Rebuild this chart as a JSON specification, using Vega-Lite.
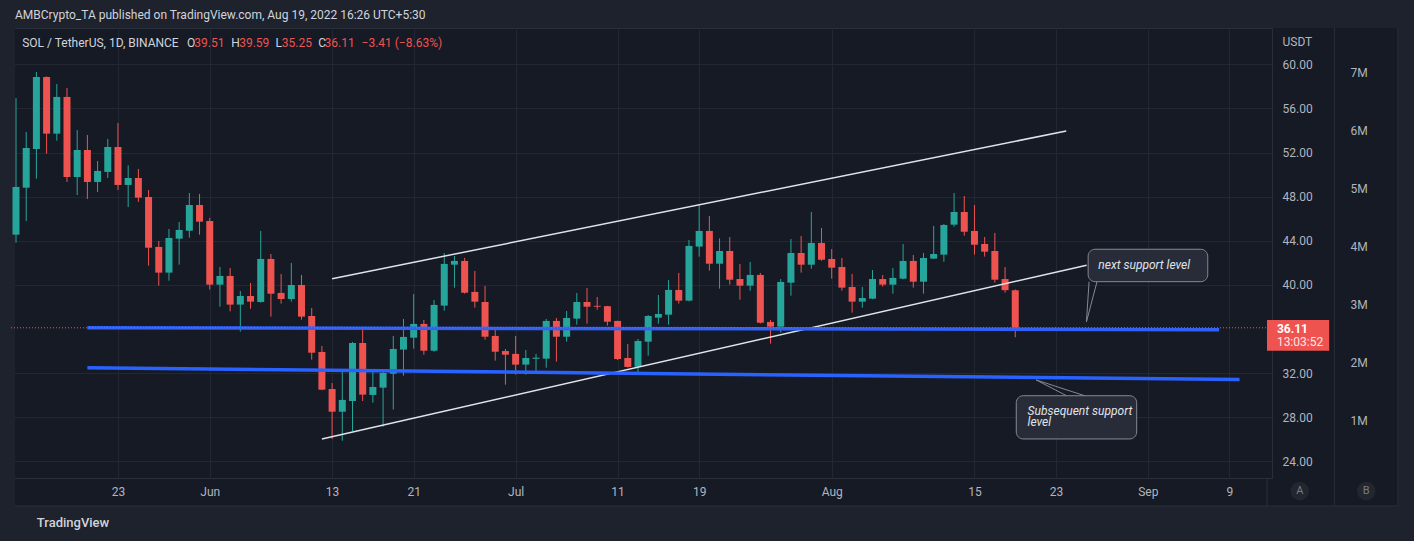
{
"$schema": "https://vega.github.io/schema/vega-lite/v6.json",
"width": 1262,
"height": 450,
"autosize": {"type": "none"},
"padding": {"left": 10, "top": 28, "right": 142, "bottom": 63},
"background": "#161a25",
"config": {"font": "Roboto", "view": {"stroke": "#2a2e39", "strokeWidth": 1}},
"datasets": {
"candles": [
{"d":"2022-05-13","o":44.55,"h":56.94,"l":43.83,"c":48.88},
{"d":"2022-05-14","o":48.81,"h":53.86,"l":45.79,"c":52.41},
{"d":"2022-05-15","o":52.32,"h":59.30,"l":49.63,"c":58.85},
{"d":"2022-05-16","o":58.85,"h":58.90,"l":51.89,"c":53.71},
{"d":"2022-05-17","o":53.71,"h":58.21,"l":53.07,"c":57.04},
{"d":"2022-05-18","o":57.04,"h":57.85,"l":49.33,"c":49.78},
{"d":"2022-05-19","o":49.78,"h":54.04,"l":48.15,"c":52.23},
{"d":"2022-05-20","o":52.23,"h":53.59,"l":47.79,"c":49.33},
{"d":"2022-05-21","o":49.33,"h":51.23,"l":48.42,"c":50.33},
{"d":"2022-05-22","o":50.24,"h":53.23,"l":49.69,"c":52.50},
{"d":"2022-05-23","o":52.50,"h":54.68,"l":48.60,"c":49.06},
{"d":"2022-05-24","o":49.06,"h":50.84,"l":47.06,"c":49.69},
{"d":"2022-05-25","o":49.69,"h":50.51,"l":47.52,"c":47.91},
{"d":"2022-05-26","o":47.97,"h":48.60,"l":41.74,"c":43.37},
{"d":"2022-05-27","o":43.44,"h":43.98,"l":39.93,"c":41.11},
{"d":"2022-05-28","o":41.11,"h":45.07,"l":40.38,"c":44.25},
{"d":"2022-05-29","o":44.19,"h":45.70,"l":41.83,"c":44.98},
{"d":"2022-05-30","o":44.91,"h":48.33,"l":44.28,"c":47.24},
{"d":"2022-05-31","o":47.24,"h":48.24,"l":44.55,"c":45.73},
{"d":"2022-06-01","o":45.79,"h":46.07,"l":39.57,"c":40.02},
{"d":"2022-06-02","o":40.02,"h":41.62,"l":38.02,"c":40.81},
{"d":"2022-06-03","o":40.81,"h":41.53,"l":37.60,"c":38.21},
{"d":"2022-06-04","o":38.21,"h":39.45,"l":35.76,"c":38.99},
{"d":"2022-06-05","o":38.99,"h":40.17,"l":37.84,"c":38.48},
{"d":"2022-06-06","o":38.45,"h":44.89,"l":38.39,"c":42.35},
{"d":"2022-06-07","o":42.35,"h":42.80,"l":37.12,"c":39.20},
{"d":"2022-06-08","o":39.27,"h":40.99,"l":38.30,"c":38.72},
{"d":"2022-06-09","o":38.72,"h":41.99,"l":38.48,"c":39.99},
{"d":"2022-06-10","o":39.99,"h":40.90,"l":36.85,"c":37.12},
{"d":"2022-06-11","o":37.18,"h":37.91,"l":33.22,"c":33.85},
{"d":"2022-06-12","o":33.92,"h":34.46,"l":30.45,"c":30.50},
{"d":"2022-06-13","o":30.56,"h":31.11,"l":26.03,"c":28.50},
{"d":"2022-06-14","o":28.50,"h":32.28,"l":25.87,"c":29.57},
{"d":"2022-06-15","o":29.47,"h":34.82,"l":26.75,"c":34.73},
{"d":"2022-06-16","o":34.73,"h":36.00,"l":29.47,"c":30.05},
{"d":"2022-06-17","o":30.02,"h":32.19,"l":29.32,"c":30.74},
{"d":"2022-06-18","o":30.68,"h":32.19,"l":27.14,"c":32.01},
{"d":"2022-06-19","o":31.95,"h":35.37,"l":28.69,"c":34.19},
{"d":"2022-06-20","o":34.13,"h":36.91,"l":31.77,"c":35.28},
{"d":"2022-06-21","o":35.21,"h":39.17,"l":34.22,"c":36.46},
{"d":"2022-06-22","o":36.46,"h":36.82,"l":33.67,"c":34.03},
{"d":"2022-06-23","o":34.03,"h":38.63,"l":33.94,"c":38.18},
{"d":"2022-06-24","o":38.12,"h":42.89,"l":37.66,"c":41.90},
{"d":"2022-06-25","o":41.83,"h":42.62,"l":39.75,"c":42.17},
{"d":"2022-06-26","o":42.17,"h":42.44,"l":39.20,"c":39.29},
{"d":"2022-06-27","o":39.36,"h":41.26,"l":37.93,"c":38.48},
{"d":"2022-06-28","o":38.45,"h":39.90,"l":35.03,"c":35.30},
{"d":"2022-06-29","o":35.37,"h":36.07,"l":33.13,"c":33.94},
{"d":"2022-06-30","o":34.00,"h":34.19,"l":30.95,"c":33.67},
{"d":"2022-07-01","o":33.74,"h":35.37,"l":31.86,"c":32.77},
{"d":"2022-07-02","o":32.77,"h":34.10,"l":31.86,"c":33.37},
{"d":"2022-07-03","o":33.30,"h":33.74,"l":32.13,"c":33.40},
{"d":"2022-07-04","o":33.31,"h":36.91,"l":32.49,"c":36.73},
{"d":"2022-07-05","o":36.73,"h":37.00,"l":33.04,"c":35.30},
{"d":"2022-07-06","o":35.30,"h":37.63,"l":34.85,"c":37.00},
{"d":"2022-07-07","o":36.94,"h":39.27,"l":36.39,"c":38.45},
{"d":"2022-07-08","o":38.45,"h":39.72,"l":36.48,"c":38.02},
{"d":"2022-07-09","o":38.10,"h":38.90,"l":37.75,"c":38.02},
{"d":"2022-07-10","o":38.07,"h":38.10,"l":36.30,"c":36.66},
{"d":"2022-07-11","o":36.73,"h":36.75,"l":33.19,"c":33.28},
{"d":"2022-07-12","o":33.37,"h":34.64,"l":32.50,"c":32.56},
{"d":"2022-07-13","o":32.58,"h":35.10,"l":31.86,"c":34.91},
{"d":"2022-07-14","o":34.85,"h":37.27,"l":33.58,"c":37.18},
{"d":"2022-07-15","o":37.03,"h":39.08,"l":36.48,"c":37.36},
{"d":"2022-07-16","o":37.30,"h":40.44,"l":36.39,"c":39.54},
{"d":"2022-07-17","o":39.54,"h":41.08,"l":38.30,"c":38.57},
{"d":"2022-07-18","o":38.57,"h":44.07,"l":38.50,"c":43.53},
{"d":"2022-07-19","o":43.47,"h":47.33,"l":42.56,"c":44.89},
{"d":"2022-07-20","o":44.89,"h":46.25,"l":41.29,"c":41.92},
{"d":"2022-07-21","o":41.92,"h":44.22,"l":39.66,"c":43.07},
{"d":"2022-07-22","o":43.07,"h":44.34,"l":40.02,"c":40.47},
{"d":"2022-07-23","o":40.53,"h":41.90,"l":38.66,"c":39.93},
{"d":"2022-07-24","o":39.93,"h":42.08,"l":39.47,"c":40.90},
{"d":"2022-07-25","o":40.90,"h":41.08,"l":36.50,"c":36.57},
{"d":"2022-07-26","o":36.64,"h":36.82,"l":34.67,"c":36.21},
{"d":"2022-07-27","o":36.21,"h":40.53,"l":35.67,"c":40.26},
{"d":"2022-07-28","o":40.20,"h":44.16,"l":39.02,"c":42.89},
{"d":"2022-07-29","o":42.89,"h":44.43,"l":41.11,"c":41.83},
{"d":"2022-07-30","o":41.83,"h":46.61,"l":41.47,"c":43.80},
{"d":"2022-07-31","o":43.80,"h":45.16,"l":42.19,"c":42.28},
{"d":"2022-08-01","o":42.35,"h":43.25,"l":40.56,"c":41.56},
{"d":"2022-08-02","o":41.62,"h":42.44,"l":39.47,"c":39.75},
{"d":"2022-08-03","o":39.81,"h":40.99,"l":37.48,"c":38.48},
{"d":"2022-08-04","o":38.48,"h":39.81,"l":37.93,"c":38.81},
{"d":"2022-08-05","o":38.75,"h":41.35,"l":38.70,"c":40.53},
{"d":"2022-08-06","o":40.53,"h":40.90,"l":39.84,"c":40.02},
{"d":"2022-08-07","o":40.02,"h":41.53,"l":39.20,"c":40.63},
{"d":"2022-08-08","o":40.56,"h":43.71,"l":40.50,"c":42.17},
{"d":"2022-08-09","o":42.17,"h":42.71,"l":39.75,"c":40.29},
{"d":"2022-08-10","o":40.29,"h":42.89,"l":39.20,"c":42.44},
{"d":"2022-08-11","o":42.38,"h":45.34,"l":42.35,"c":42.80},
{"d":"2022-08-12","o":42.74,"h":45.52,"l":42.10,"c":45.43},
{"d":"2022-08-13","o":45.46,"h":48.33,"l":45.28,"c":46.61},
{"d":"2022-08-14","o":46.61,"h":48.06,"l":44.46,"c":44.82},
{"d":"2022-08-15","o":44.89,"h":47.24,"l":42.74,"c":43.64},
{"d":"2022-08-16","o":43.71,"h":44.34,"l":42.56,"c":43.01},
{"d":"2022-08-17","o":43.07,"h":44.71,"l":40.20,"c":40.47},
{"d":"2022-08-18","o":40.53,"h":41.62,"l":39.29,"c":39.52},
{"d":"2022-08-19","o":39.51,"h":39.59,"l":35.25,"c":36.11}
],
"frame": [
{"t":"2022-05-01T00:00:00Z","t2":"2022-10-10T00:00:00Z","p":63.29,"p2":70},
{"t":"2022-05-01T00:00:00Z","t2":"2022-10-10T00:00:00Z","p":19.95,"p2":10},
{"t":"2022-05-01T00:00:00Z","t2":"2022-05-12T21:37:00Z","p":10,"p2":70},
{"t":"2022-09-25T12:43:00Z","t2":"2022-10-10T00:00:00Z","p":10,"p2":70}
],
"seps": [
{"t":"2022-09-12T16:34:00Z","t2":"2022-09-12T16:34:00Z","p":22.49,"p2":19.95},
{"t":"2022-09-19T07:12:00Z","t2":"2022-09-19T07:12:00Z","p":63.29,"p2":19.95},
{"t":"2022-05-12T21:37:00Z","t2":"2022-09-25T12:43:00Z","p":19.95,"p2":19.95},
{"t":"2022-09-25T12:43:00Z","t2":"2022-09-25T12:43:00Z","p":63.29,"p2":19.95}
],
"buttons": [
{"t":"2022-09-15T21:36:00Z","p":21.31,"s":"A"},
{"t":"2022-09-22T10:05:00Z","p":21.31,"s":"B"}
],
"header": [{"t":"2022-05-12T21:37:00Z","p":64.47,"s":"AMBCrypto_TA published on TradingView.com, Aug 19, 2022 16:26 UTC+5:30"}],
"footer": [{"t":"2022-05-15T00:58:00Z","p":18.41,"s":"TradingView"}],
"trend": [
{"t":"2022-06-13","t2":"2022-08-24","p":40.56,"p2":53.95},
{"t":"2022-06-12","t2":"2022-08-26","p":26.03,"p2":41.78}
],
"support": [
{"t":"2022-05-20","t2":"2022-09-08","p":36.12,"p2":35.94},
{"t":"2022-05-20","t2":"2022-09-10","p":32.49,"p2":31.41}
],
"last": [{"p":36.11}],
"boxes": [
{"t":"2022-08-26T03:36:00Z","t2":"2022-09-06T21:07:00Z","p":43.23,"p2":40.29},
{"t":"2022-08-19T02:24:00Z","t2":"2022-08-30T21:50:00Z","p":29.95,"p2":26.03}
],
"tails": [
{"g":1,"k":1,"t":"2022-08-26T05:46:00Z","p":40.29},
{"g":1,"k":2,"t":"2022-08-25T23:32:00Z","p":36.64},
{"g":1,"k":3,"t":"2022-08-27T00:29:00Z","p":40.29},
{"g":2,"k":1,"t":"2022-08-24T00:43:00Z","p":29.95},
{"g":2,"k":2,"t":"2022-08-21T01:12:00Z","p":31.38},
{"g":2,"k":3,"t":"2022-08-25T19:26:00Z","p":29.95}
],
"notes": [
{"t":"2022-08-27T03:36:00Z","p":41.80,"s":"next support level"},
{"t":"2022-08-20T05:02:00Z","p":28.57,"s":"Subsequent support"},
{"t":"2022-08-20T05:02:00Z","p":27.53,"s":"level"}
],
"pricebox": [{"t":"2022-09-12T16:34:00Z","t2":"2022-09-18T18:58:00Z","p":36.82,"p2":34.03}],
"lastprice": [{"t":"2022-09-13T15:50:00Z","p":36.04,"s":"36.11"}],
"countdown": [{"t":"2022-09-13T15:50:00Z","p":34.80,"s":"13:03:52"}],
"legendlabels": [
{"t":"2022-05-13T14:38:00Z","p":61.93,"s":"SOL / TetherUS, 1D, BINANCE"},
{"t":"2022-05-29T18:17:00Z","p":61.93,"s":"O"},
{"t":"2022-06-03T02:40:00Z","p":61.93,"s":"H"},
{"t":"2022-06-07T11:02:00Z","p":61.93,"s":"L"},
{"t":"2022-06-11T15:27:00Z","p":61.93,"s":"C"}
],
"legendvalues": [
{"t":"2022-05-30T11:34:00Z","p":61.93,"s":"39.51"},
{"t":"2022-06-03T21:22:00Z","p":61.93,"s":"39.59"},
{"t":"2022-06-08T01:45:00Z","p":61.93,"s":"35.25"},
{"t":"2022-06-12T06:10:00Z","p":61.93,"s":"36.11"},
{"t":"2022-06-15T21:16:00Z","p":61.93,"s":"−3.41 (−8.63%)"}
]
},
"layer": [
{
"layer": [
{"data": {"name": "frame"}, "mark": {"type": "rect", "color": "#1e222d"},
 "encoding": {"x": {"field": "t", "type": "temporal", "scale": {"type": "utc", "domain": [1652391420000, 1663000440000]}}, "x2": {"field": "t2"},
  "y": {"field": "p", "type": "quantitative", "scale": {"domain": [22.49, 63.29], "nice": false, "zero": false}}, "y2": {"field": "p2"}}},
{"data": {"name": "seps"}, "mark": {"type": "rule", "color": "#2a2e39", "strokeWidth": 1},
 "encoding": {"x": {"field": "t", "type": "temporal", "scale": {"type": "utc", "domain": [1652391420000, 1663000440000]}}, "x2": {"field": "t2"},
  "y": {"field": "p", "type": "quantitative", "scale": {"domain": [22.49, 63.29], "nice": false, "zero": false}}, "y2": {"field": "p2"}}},
{"data": {"name": "buttons"}, "mark": {"type": "point", "filled": true, "size": 346, "color": "#22262f", "opacity": 1},
 "encoding": {"x": {"field": "t", "type": "temporal", "scale": {"type": "utc", "domain": [1652391420000, 1663000440000]}},
  "y": {"field": "p", "type": "quantitative", "scale": {"domain": [22.49, 63.29], "nice": false, "zero": false}}}},
{"data": {"name": "buttons"}, "mark": {"type": "text", "color": "#787b86", "fontSize": 11, "align": "center", "baseline": "middle"},
 "encoding": {"x": {"field": "t", "type": "temporal", "scale": {"type": "utc", "domain": [1652391420000, 1663000440000]}},
  "y": {"field": "p", "type": "quantitative", "scale": {"domain": [22.49, 63.29], "nice": false, "zero": false}}, "text": {"field": "s"}}},
{"data": {"name": "header"}, "mark": {"type": "text", "color": "#d1d4dc", "fontSize": 12, "align": "left", "baseline": "middle"},
 "encoding": {"x": {"field": "t", "type": "temporal", "scale": {"type": "utc", "domain": [1652391420000, 1663000440000]}},
  "y": {"field": "p", "type": "quantitative", "scale": {"domain": [22.49, 63.29], "nice": false, "zero": false}}, "text": {"field": "s"}}},
{"data": {"name": "footer"}, "mark": {"type": "text", "color": "#d1d4dc", "fontSize": 13, "fontWeight": 500, "align": "left", "baseline": "middle"},
 "encoding": {"x": {"field": "t", "type": "temporal", "scale": {"type": "utc", "domain": [1652391420000, 1663000440000]}},
  "y": {"field": "p", "type": "quantitative", "scale": {"domain": [22.49, 63.29], "nice": false, "zero": false}}, "text": {"field": "s"}}},
{"data": {"name": "candles"}, "mark": {"type": "rule", "strokeWidth": 1, "clip": true},
 "encoding": {
  "x": {"field": "d", "type": "temporal", "scale": {"type": "utc", "domain": [1652391420000, 1663000440000]},
   "axis": {"values": [1653264000000, 1654041600000, 1655078400000, 1655769600000, 1656633600000, 1657497600000, 1658188800000, 1659312000000, 1660521600000, 1661212800000, 1661990400000, 1662681600000],
    "labelExpr": "utcdate(datum.value) == 1 ? utcFormat(datum.value, '%b') : utcFormat(datum.value, '%-d')",
    "title": null, "ticks": false, "domain": false, "grid": true, "gridColor": "#232733", "gridWidth": 1,
    "labelColor": "#b2b5be", "labelFontSize": 12, "labelFont": "Roboto", "labelPadding": 13, "labelBaseline": "middle", "labelOverlap": false, "labelFlush": false}},
  "y": {"field": "l", "type": "quantitative", "scale": {"domain": [22.49, 63.29], "nice": false, "zero": false},
   "axis": {"orient": "right", "values": [24, 28, 32, 40, 44, 48, 52, 56, 60], "format": ".2f",
    "ticks": false, "domain": false, "grid": true, "gridColor": "#232733", "gridWidth": 1,
    "labelColor": "#b2b5be", "labelFontSize": 12, "labelFont": "Roboto", "labelPadding": 10, "labelAlign": "left", "labelBaseline": "middle",
    "title": "USDT", "titleAngle": 0, "titleAlign": "left", "titleBaseline": "middle", "titleX": 10, "titleY": 13,
    "titleColor": "#b2b5be", "titleFontSize": 12, "titleFontWeight": "normal", "titleFont": "Roboto"}},
  "y2": {"field": "h"},
  "color": {"condition": {"test": "datum.c >= datum.o", "value": "#26a69a"}, "value": "#ef5350"}}},
{"data": {"name": "candles"}, "mark": {"type": "bar", "size": 7, "clip": true},
 "encoding": {"x": {"field": "d", "type": "temporal", "scale": {"type": "utc", "domain": [1652391420000, 1663000440000]}},
  "y": {"field": "o", "type": "quantitative", "scale": {"domain": [22.49, 63.29], "nice": false, "zero": false}}, "y2": {"field": "c"},
  "color": {"condition": {"test": "datum.c >= datum.o", "value": "#26a69a"}, "value": "#ef5350"}}},
{"data": {"name": "trend"}, "mark": {"type": "rule", "color": "#e0e3eb", "strokeWidth": 1.5},
 "encoding": {"x": {"field": "t", "type": "temporal", "scale": {"type": "utc", "domain": [1652391420000, 1663000440000]}}, "x2": {"field": "t2"},
  "y": {"field": "p", "type": "quantitative", "scale": {"domain": [22.49, 63.29], "nice": false, "zero": false}}, "y2": {"field": "p2"}}},
{"data": {"name": "support"}, "mark": {"type": "rule", "color": "#2962ff", "strokeWidth": 3.5},
 "encoding": {"x": {"field": "t", "type": "temporal", "scale": {"type": "utc", "domain": [1652391420000, 1663000440000]}}, "x2": {"field": "t2"},
  "y": {"field": "p", "type": "quantitative", "scale": {"domain": [22.49, 63.29], "nice": false, "zero": false}}, "y2": {"field": "p2"}}},
{"data": {"name": "last"}, "mark": {"type": "rule", "color": "#ef5350", "strokeWidth": 1, "strokeDash": [1, 2]},
 "encoding": {"y": {"field": "p", "type": "quantitative", "scale": {"domain": [22.49, 63.29], "nice": false, "zero": false}}}},
{"data": {"name": "boxes"}, "mark": {"type": "rect", "fill": "#2a2e39", "fillOpacity": 0.92, "stroke": "#868993", "strokeWidth": 1, "cornerRadius": 7},
 "encoding": {"x": {"field": "t", "type": "temporal", "scale": {"type": "utc", "domain": [1652391420000, 1663000440000]}}, "x2": {"field": "t2"},
  "y": {"field": "p", "type": "quantitative", "scale": {"domain": [22.49, 63.29], "nice": false, "zero": false}}, "y2": {"field": "p2"}}},
{"data": {"name": "tails"}, "mark": {"type": "line", "color": "#868993", "strokeWidth": 1},
 "encoding": {"x": {"field": "t", "type": "temporal", "scale": {"type": "utc", "domain": [1652391420000, 1663000440000]}},
  "y": {"field": "p", "type": "quantitative", "scale": {"domain": [22.49, 63.29], "nice": false, "zero": false}},
  "detail": {"field": "g", "type": "nominal"}, "order": {"field": "k", "type": "quantitative"}}},
{"data": {"name": "notes"}, "mark": {"type": "text", "color": "#e0e3eb", "fontSize": 12, "fontStyle": "italic", "align": "left", "baseline": "middle"},
 "encoding": {"x": {"field": "t", "type": "temporal", "scale": {"type": "utc", "domain": [1652391420000, 1663000440000]}},
  "y": {"field": "p", "type": "quantitative", "scale": {"domain": [22.49, 63.29], "nice": false, "zero": false}}, "text": {"field": "s"}}},
{"data": {"name": "pricebox"}, "mark": {"type": "rect", "color": "#ef5350"},
 "encoding": {"x": {"field": "t", "type": "temporal", "scale": {"type": "utc", "domain": [1652391420000, 1663000440000]}}, "x2": {"field": "t2"},
  "y": {"field": "p", "type": "quantitative", "scale": {"domain": [22.49, 63.29], "nice": false, "zero": false}}, "y2": {"field": "p2"}}},
{"data": {"name": "lastprice"}, "mark": {"type": "text", "color": "#ffffff", "fontSize": 12, "fontWeight": "bold", "align": "left", "baseline": "middle"},
 "encoding": {"x": {"field": "t", "type": "temporal", "scale": {"type": "utc", "domain": [1652391420000, 1663000440000]}},
  "y": {"field": "p", "type": "quantitative", "scale": {"domain": [22.49, 63.29], "nice": false, "zero": false}}, "text": {"field": "s"}}},
{"data": {"name": "countdown"}, "mark": {"type": "text", "color": "#ffffff", "opacity": 0.85, "fontSize": 12, "align": "left", "baseline": "middle"},
 "encoding": {"x": {"field": "t", "type": "temporal", "scale": {"type": "utc", "domain": [1652391420000, 1663000440000]}},
  "y": {"field": "p", "type": "quantitative", "scale": {"domain": [22.49, 63.29], "nice": false, "zero": false}}, "text": {"field": "s"}}},
{"data": {"name": "legendlabels"}, "mark": {"type": "text", "color": "#d1d4dc", "fontSize": 12, "align": "left", "baseline": "middle"},
 "encoding": {"x": {"field": "t", "type": "temporal", "scale": {"type": "utc", "domain": [1652391420000, 1663000440000]}},
  "y": {"field": "p", "type": "quantitative", "scale": {"domain": [22.49, 63.29], "nice": false, "zero": false}}, "text": {"field": "s"}}},
{"data": {"name": "legendvalues"}, "mark": {"type": "text", "color": "#ef5350", "fontSize": 12, "align": "left", "baseline": "middle"},
 "encoding": {"x": {"field": "t", "type": "temporal", "scale": {"type": "utc", "domain": [1652391420000, 1663000440000]}},
  "y": {"field": "p", "type": "quantitative", "scale": {"domain": [22.49, 63.29], "nice": false, "zero": false}}, "text": {"field": "s"}}}
]
},
{"data": {"values": [{"v": 0}]}, "mark": {"type": "point", "opacity": 0},
 "encoding": {"y": {"field": "v", "type": "quantitative", "scale": {"domain": [0, 7772000], "nice": false},
  "axis": {"orient": "right", "offset": 68, "values": [1000000, 2000000, 3000000, 4000000, 5000000, 6000000, 7000000],
   "labelExpr": "format(datum.value / 1000000, 'd') + 'M'", "ticks": false, "domain": false, "grid": false, "title": null,
   "labelColor": "#b2b5be", "labelFontSize": 12, "labelFont": "Roboto", "labelPadding": 10, "labelAlign": "left", "labelBaseline": "middle"}}}}
],
"resolve": {"scale": {"y": "independent"}, "axis": {"y": "independent"}}
}
